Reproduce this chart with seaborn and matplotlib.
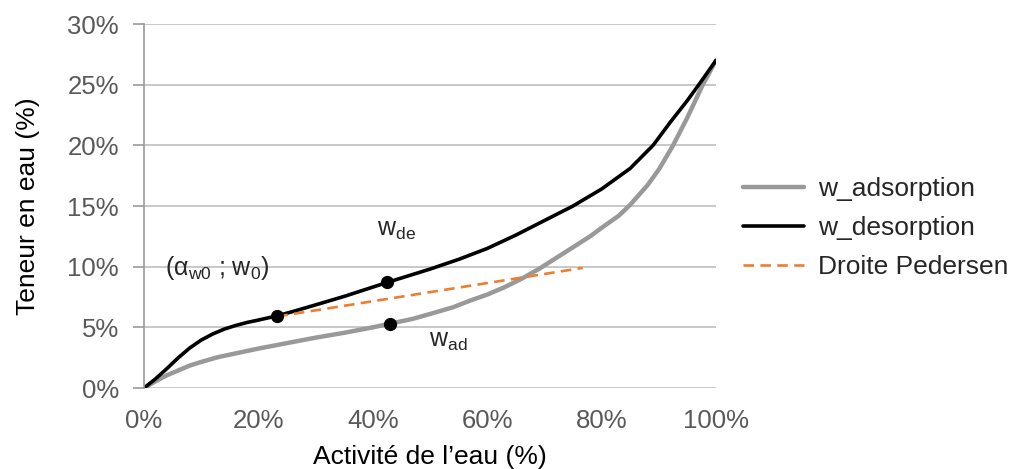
import pandas as pd
import seaborn as sns
import matplotlib
matplotlib.use("Agg")
import matplotlib.pyplot as plt
from matplotlib.ticker import PercentFormatter

# water activity (%) and water content (%)
aw_des = [0, 2, 4, 6, 8, 10, 12, 14, 16, 18, 20, 23.3, 26, 30, 35, 42.5, 50, 55, 60, 65,
          70, 75, 80, 85, 89, 92, 95, 97, 100]
w_des = [0, 0.75, 1.6, 2.5, 3.3, 3.95, 4.45, 4.85, 5.15, 5.4, 5.6, 5.95, 6.3, 6.85, 7.55, 8.7, 9.8, 10.6, 11.5, 12.6,
         13.8, 15.0, 16.4, 18.1, 20.0, 21.9, 23.7, 25.0, 27.0]

aw_ads = [0, 2, 4, 6, 8, 10, 13, 16, 20, 25, 30, 35, 40, 43, 47, 50, 54, 57, 60, 63, 66,
          69, 72, 75, 78, 80, 83, 85, 88, 90, 92.5, 95, 97.7, 100]
w_ads = [0, 0.55, 1.05, 1.45, 1.85, 2.15, 2.55, 2.85, 3.25, 3.7, 4.15, 4.55, 5.0, 5.3, 5.7, 6.1, 6.65, 7.2, 7.7, 8.3, 9.0,
         9.8, 10.7, 11.6, 12.5, 13.2, 14.2, 15.1, 16.7, 18.0, 20.0, 22.3, 25.0, 27.0]

aw_ped = [23.3, 76.7]
w_ped = [5.9, 9.9]

pts_x = [23.3, 42.5, 43]
pts_y = [5.95, 8.7, 5.3]

sns.set_theme(style="white")
plt.rcParams['font.family'] = ['Liberation Sans', 'DejaVu Sans']
plt.rcParams['mathtext.fontset'] = 'custom'
plt.rcParams['mathtext.rm'] = 'Liberation Sans'

ads = pd.DataFrame({"aw": aw_ads, "w": w_ads})
des = pd.DataFrame({"aw": aw_des, "w": w_des})
ped = pd.DataFrame({"aw": aw_ped, "w": w_ped})

fig = plt.figure(figsize=(10.12, 4.69), dpi=100)
ax = fig.add_axes([0.1423, 0.1727, 0.5652, 0.7761])

sns.lineplot(data=ads, x="aw", y="w", ax=ax, color="#999999", lw=3.2, label="w_adsorption", sort=False)
sns.lineplot(data=des, x="aw", y="w", ax=ax, color="black", lw=2.6, label="w_desorption", sort=False)
sns.lineplot(data=ped, x="aw", y="w", ax=ax, color="#ED7D31", lw=1.9, ls=(0, (4, 2.4)), label="Droite Pedersen")
ax.plot(pts_x, pts_y, "o", color="black", ms=8.5, zorder=5)

ax.set_xlim(0, 100)
ax.set_ylim(0, 30)
ax.set_xticks(range(0, 101, 20))
ax.set_yticks(range(0, 31, 5))
ax.xaxis.set_major_formatter(PercentFormatter(decimals=0))
ax.yaxis.set_major_formatter(PercentFormatter(decimals=0))
ax.grid(axis="y", color="#bfbfbf", lw=1.2)
ax.set_axisbelow(True)
for s in ["top", "right", "bottom"]:
    ax.spines[s].set_visible(False)
ax.spines["left"].set_color("#999999")
ax.spines["left"].set_linewidth(1.2)
ax.tick_params(axis="y", left=True, length=8, width=1.2, color="#999999", labelsize=18.5, labelcolor="#595959", pad=10)
ax.tick_params(axis="x", bottom=False, labelsize=18.5, labelcolor="#595959", pad=9)

ax.set_xlabel("Activité de l’eau (%)", fontsize=19, color="black", labelpad=8.5)
ax.set_ylabel("Teneur en eau (%)", fontsize=19, color="black", labelpad=20)

ax.text(44.2, 13.0, r"w$_\mathregular{de}$", fontsize=18, ha="center", va="center")
ax.text(3.7, 9.9, r"(α$_\mathregular{w0}$ ; w$_\mathregular{0}$)", fontsize=18, ha="left", va="center")
ax.text(53.2, 3.9, r"w$_\mathregular{ad}$", fontsize=18, ha="center", va="center")

ax.legend(loc="upper left", bbox_to_anchor=(1.047, 0.58), frameon=False, fontsize=19,
          handlelength=2.3, handletextpad=0.53, labelspacing=0.57, borderpad=0, borderaxespad=0)

fig.savefig("out.png", dpi=100)
